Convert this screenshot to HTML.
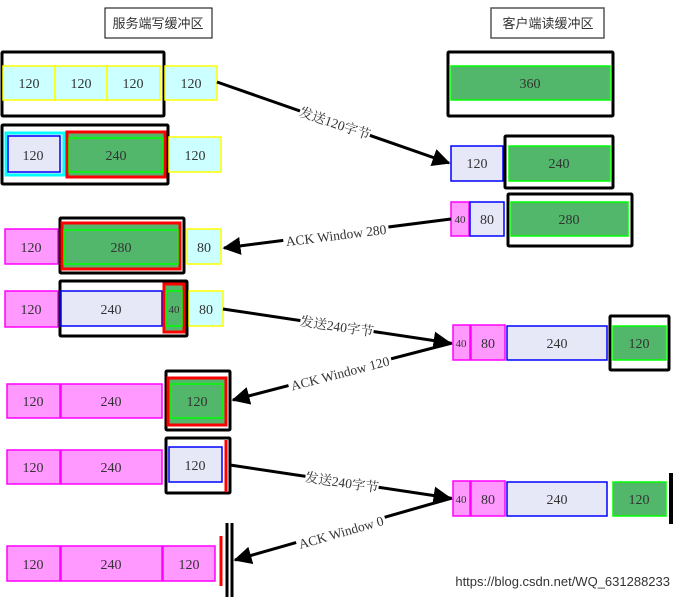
<!DOCTYPE html>
<html><head><meta charset="utf-8"><style>
html,body{margin:0;padding:0;background:#fff;}
svg{display:block;}
text{font-family:"Liberation Serif","Noto Serif CJK SC",serif;fill:#333;}
text.sans{font-family:"Liberation Sans","Noto Sans CJK SC",sans-serif;}
</style></head><body>
<svg width="679" height="599" viewBox="0 0 679 599" xmlns="http://www.w3.org/2000/svg">
<defs>
<marker id="ah" markerWidth="6" markerHeight="6" refX="5.5" refY="3" orient="auto" markerUnits="strokeWidth">
<path d="M0,0 L6,3 L0,6 z" fill="#000"/></marker>
</defs>
<g font-size="14" text-anchor="middle">
<!-- titles -->
<rect x="105" y="8" width="107" height="30" fill="#fff" stroke="#000"/>
<text x="158" y="28" class="sans" font-size="13" fill="#555">服务端写缓冲区</text>
<rect x="491" y="8" width="113" height="30" fill="#fff" stroke="#555" stroke-width="1.5"/>
<text x="548" y="28" class="sans" font-size="13" fill="#555">客户端读缓冲区</text>

<!-- Left row1 -->
<rect x="2" y="52" width="162" height="64" fill="none" stroke="#000" stroke-width="3" rx="1"/>
<g fill="#ccffff" stroke="#ffff00" stroke-width="1.5">
<rect x="3" y="66" width="52" height="34"/><rect x="55" y="66" width="52" height="34"/><rect x="107" y="66" width="53" height="34"/><rect x="165" y="66" width="52" height="34"/>
</g>
<text x="29" y="88">120</text><text x="81" y="88">120</text><text x="133" y="88">120</text><text x="191" y="88">120</text>

<!-- Left row2 -->
<rect x="2" y="125" width="166" height="59" fill="none" stroke="#000" stroke-width="3" rx="1"/>
<rect x="6" y="133" width="58" height="42" fill="#e6e8f8" stroke="#00ffff" stroke-width="3"/>
<rect x="8" y="136" width="52" height="36" fill="#e6e8f8" stroke="#0000ff" stroke-width="1.5"/>
<rect x="67" y="132" width="98" height="45" fill="#52b76a" stroke="#ff0000" stroke-width="3"/>
<rect x="69" y="138" width="94" height="34" fill="#52b76a" stroke="#00ff00" stroke-width="1.5"/>
<rect x="169" y="137" width="52" height="35" fill="#ccffff" stroke="#ffff00" stroke-width="1.5"/>
<text x="33" y="160">120</text><text x="116" y="160">240</text><text x="195" y="160">120</text>

<!-- Right row1 -->
<rect x="448" y="52" width="165" height="64" fill="none" stroke="#000" stroke-width="3" rx="1"/>
<rect x="451" y="66" width="159" height="34" fill="#52b76a" stroke="#00ff00" stroke-width="1.5"/>
<text x="530" y="88">360</text>

<!-- Right row2 -->
<rect x="451" y="146" width="52" height="35" fill="#e6e8f8" stroke="#0000ff" stroke-width="1.5"/>
<rect x="505" y="136" width="108" height="52" fill="none" stroke="#000" stroke-width="3" rx="1"/>
<rect x="509" y="146" width="101" height="35" fill="#52b76a" stroke="#00ff00" stroke-width="1.5"/>
<text x="477" y="168">120</text><text x="559" y="168">240</text>

<!-- Right row3 -->
<rect x="451" y="202" width="18" height="34" fill="#ff99ff" stroke="#ff00ff" stroke-width="1.5"/>
<rect x="470" y="202" width="34" height="34" fill="#e6e8f8" stroke="#0000ff" stroke-width="1.5"/>
<rect x="508" y="194" width="124" height="52" fill="none" stroke="#000" stroke-width="3" rx="1"/>
<rect x="511" y="202" width="117" height="34" fill="#52b76a" stroke="#00ff00" stroke-width="1.5"/>
<text x="460" y="223" font-size="11">40</text><text x="487" y="224">80</text><text x="569" y="224">280</text>

<!-- Left row3 -->
<rect x="5" y="229" width="53" height="35" fill="#ff99ff" stroke="#ff00ff" stroke-width="1.5"/>
<rect x="60" y="218" width="124" height="55" fill="none" stroke="#000" stroke-width="3" rx="1"/>
<rect x="62" y="223" width="118" height="46" fill="#52b76a" stroke="#ff0000" stroke-width="3"/>
<rect x="64" y="230" width="114" height="34" fill="#52b76a" stroke="#00ff00" stroke-width="1.5"/>
<rect x="187" y="229" width="34" height="35" fill="#ccffff" stroke="#ffff00" stroke-width="1.5"/>
<text x="31" y="252">120</text><text x="121" y="252">280</text><text x="204" y="252">80</text>

<!-- Left row4 -->
<rect x="5" y="291" width="53" height="36" fill="#ff99ff" stroke="#ff00ff" stroke-width="1.5"/>
<rect x="60" y="281" width="127" height="55" fill="none" stroke="#000" stroke-width="3" rx="1"/>
<rect x="61" y="291" width="101" height="35" fill="#e6e8f8" stroke="#0000ff" stroke-width="1.5"/>
<rect x="164" y="284" width="20" height="48" fill="#52b76a" stroke="#ff0000" stroke-width="3"/>
<rect x="166" y="291" width="16" height="35" fill="#52b76a" stroke="#00ff00" stroke-width="1.5"/>
<rect x="189" y="291" width="34" height="35" fill="#ccffff" stroke="#ffff00" stroke-width="1.5"/>
<text x="31" y="314">120</text><text x="111" y="314">240</text><text x="174" y="313" font-size="11">40</text><text x="206" y="314">80</text>

<!-- Right row4 -->
<rect x="453" y="325" width="17" height="35" fill="#ff99ff" stroke="#ff00ff" stroke-width="1.5"/>
<rect x="471" y="325" width="34" height="35" fill="#ff99ff" stroke="#ff00ff" stroke-width="1.5"/>
<rect x="507" y="326" width="100" height="34" fill="#e6e8f8" stroke="#0000ff" stroke-width="1.5"/>
<rect x="610" y="316" width="59" height="54" fill="none" stroke="#000" stroke-width="3" rx="1"/>
<rect x="613" y="326" width="53" height="34" fill="#52b76a" stroke="#00ff00" stroke-width="1.5"/>
<text x="461" y="347" font-size="11">40</text><text x="488" y="348">80</text><text x="557" y="348">240</text><text x="639" y="348">120</text>

<!-- Left row5 -->
<rect x="7" y="384" width="53" height="34" fill="#ff99ff" stroke="#ff00ff" stroke-width="1.5"/>
<rect x="61" y="384" width="101" height="34" fill="#ff99ff" stroke="#ff00ff" stroke-width="1.5"/>
<rect x="166" y="371" width="64" height="59" fill="none" stroke="#000" stroke-width="3" rx="1"/>
<rect x="168" y="378" width="58" height="47" fill="#52b76a" stroke="#ff0000" stroke-width="3"/>
<rect x="171" y="384" width="52" height="34" fill="#52b76a" stroke="#00ff00" stroke-width="1.5"/>
<text x="33" y="406">120</text><text x="111" y="406">240</text><text x="197" y="406">120</text>

<!-- Left row6 -->
<rect x="7" y="450" width="53" height="34" fill="#ff99ff" stroke="#ff00ff" stroke-width="1.5"/>
<rect x="61" y="450" width="101" height="34" fill="#ff99ff" stroke="#ff00ff" stroke-width="1.5"/>
<rect x="166" y="438" width="64" height="55" fill="none" stroke="#000" stroke-width="3" rx="1"/>
<rect x="169" y="447" width="53" height="35" fill="#e6e8f8" stroke="#0000ff" stroke-width="1.5"/>
<line x1="226" y1="440" x2="226" y2="492" stroke="#ff0000" stroke-width="3"/>
<text x="33" y="472">120</text><text x="111" y="472">240</text><text x="195" y="470">120</text>

<!-- Right row5 -->
<rect x="453" y="481" width="17" height="35" fill="#ff99ff" stroke="#ff00ff" stroke-width="1.5"/>
<rect x="471" y="481" width="34" height="35" fill="#ff99ff" stroke="#ff00ff" stroke-width="1.5"/>
<rect x="507" y="482" width="100" height="34" fill="#e6e8f8" stroke="#0000ff" stroke-width="1.5"/>
<rect x="613" y="482" width="53" height="34" fill="#52b76a" stroke="#00ff00" stroke-width="1.5"/>
<line x1="671" y1="473" x2="671" y2="524" stroke="#000" stroke-width="4"/>
<text x="461" y="503" font-size="11">40</text><text x="488" y="504">80</text><text x="557" y="504">240</text><text x="639" y="504">120</text>

<!-- Left row7 -->
<rect x="7" y="546" width="53" height="35" fill="#ff99ff" stroke="#ff00ff" stroke-width="1.5"/>
<rect x="61" y="546" width="101" height="35" fill="#ff99ff" stroke="#ff00ff" stroke-width="1.5"/>
<rect x="163" y="546" width="52" height="35" fill="#ff99ff" stroke="#ff00ff" stroke-width="1.5"/>
<line x1="221" y1="536" x2="221" y2="586" stroke="#ff0000" stroke-width="3"/>
<line x1="227" y1="523" x2="227" y2="597" stroke="#000" stroke-width="3"/>
<line x1="232" y1="523" x2="232" y2="597" stroke="#000" stroke-width="3"/>
<text x="33" y="569">120</text><text x="111" y="569">240</text><text x="189" y="569">120</text>

<!-- arrows -->
<g stroke="#000" stroke-width="3" fill="none" marker-end="url(#ah)">
<line x1="217" y1="82" x2="449" y2="163"/>
<line x1="451" y1="219" x2="224" y2="248"/>
<line x1="223" y1="309" x2="450" y2="343"/>
<line x1="452" y1="343" x2="233" y2="400"/>
<line x1="230" y1="465" x2="450" y2="498"/>
<line x1="452" y1="498" x2="235" y2="560"/>
</g>
<g font-size="13.5">
<g transform="translate(335,123) rotate(19)"><rect x="-37" y="-9" width="74" height="16" fill="#fff"/><text x="0" y="5">发送120字节</text></g>
<g transform="translate(336,235) rotate(-7)"><rect x="-53" y="-9" width="106" height="16" fill="#fff"/><text x="0" y="5">ACK Window 280</text></g>
<g transform="translate(337,326) rotate(8.5)"><rect x="-37" y="-9" width="74" height="16" fill="#fff"/><text x="0" y="5">发送240字节</text></g>
<g transform="translate(340,373) rotate(-14.5)"><rect x="-53" y="-9" width="106" height="16" fill="#fff"/><text x="0" y="5">ACK Window 120</text></g>
<g transform="translate(342,482) rotate(8.5)"><rect x="-37" y="-9" width="74" height="16" fill="#fff"/><text x="0" y="5">发送240字节</text></g>
<g transform="translate(341,532) rotate(-16)"><rect x="-46" y="-9" width="92" height="16" fill="#fff"/><text x="0" y="5">ACK Window 0</text></g>
</g>
</g>
<text x="670" y="586" font-size="13" text-anchor="end" class="sans" fill="#c8c8c8">https://blog.csdn.net/WQ_631288233</text>
</svg>
</body></html>
